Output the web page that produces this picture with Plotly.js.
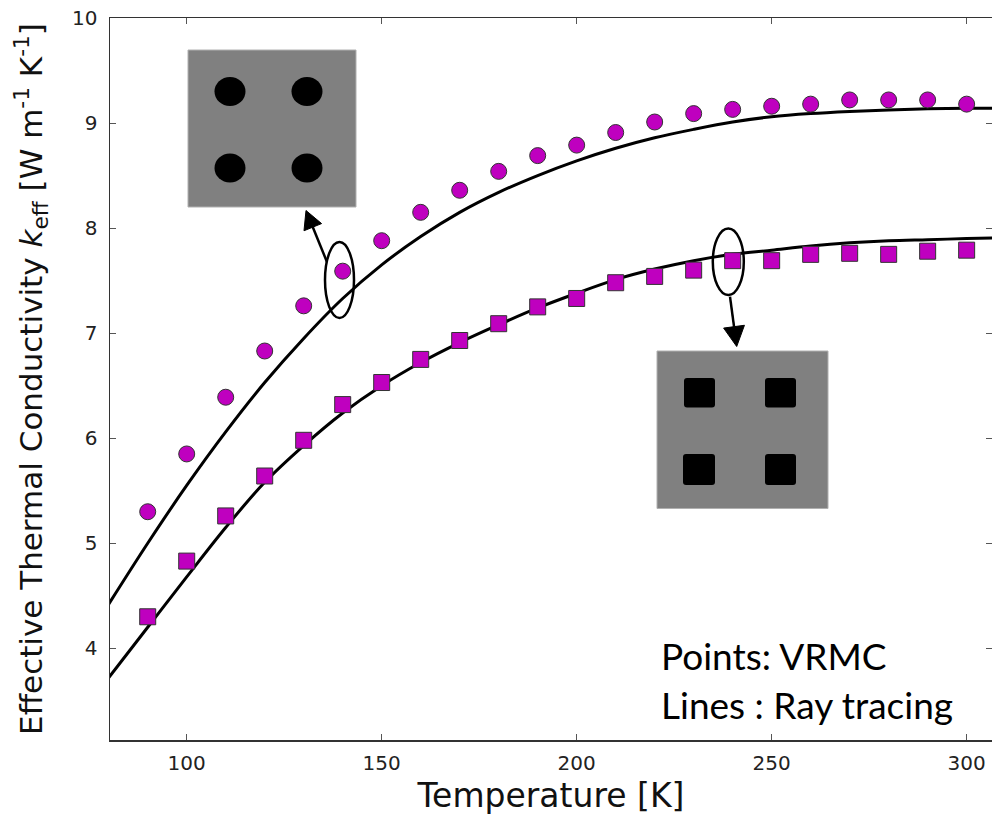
<!DOCTYPE html>
<html>
<head>
<meta charset="utf-8">
<script src="https://cdn.plot.ly/plotly-3.0.1.min.js"></script>
<style>html,body{margin:0;padding:0;background:#fff;} #chart{width:992px;height:815px;}</style>
</head>
<body>
<div id="chart"></div>
<script>
// ---- data ----
const temps = [90,100,110,120,130,140,150,160,170,180,190,200,210,220,230,240,250,260,270,280,290,300];
const vrmcCircles = [5.30,5.85,6.39,6.83,7.26,7.59,7.88,8.15,8.36,8.54,8.69,8.79,8.91,9.01,9.09,9.13,9.16,9.18,9.22,9.22,9.22,9.18];
const vrmcSquares = [4.30,4.83,5.26,5.64,5.98,6.32,6.53,6.75,6.93,7.09,7.25,7.33,7.48,7.54,7.60,7.69,7.69,7.75,7.76,7.75,7.78,7.79];
const rayT = [80,90,100,110,120,130,140,150,160,170,180,190,200,210,220,230,240,250,260,270,280,290,300,310];
const rayCircles = [4.42,5.00,5.55,6.06,6.53,6.95,7.33,7.65,7.92,8.15,8.34,8.50,8.64,8.76,8.86,8.94,9.01,9.06,9.09,9.11,9.125,9.135,9.14,9.14];
const raySquares = [3.72,4.20,4.68,5.15,5.58,5.93,6.24,6.50,6.72,6.91,7.08,7.24,7.38,7.51,7.61,7.69,7.75,7.79,7.83,7.86,7.88,7.89,7.90,7.91];
const xTicks = [100,150,200,250,300];
const yTicks = [4,5,6,7,8,9,10];
const noteLines = ["Points: VRMC", "Lines : Ray tracing"];

// ---- layout geometry ----
const W = 992, H = 815;
const M = {l:110, r:0, t:18, b:75};
const PW = W - M.l - M.r, PH = H - M.t - M.b;
const px = v => (v - M.l) / PW;          // pixel -> paper x
const py = v => (H - M.b - v) / PH;      // pixel -> paper y

const magenta = '#BF00BF';
const traces = [
  {x: rayT, y: rayCircles, mode:'lines', line:{color:'#000', width:3, shape:'spline', smoothing:1}, hoverinfo:'skip'},
  {x: rayT, y: raySquares, mode:'lines', line:{color:'#000', width:3, shape:'spline', smoothing:1}, hoverinfo:'skip'},
  {x: temps, y: vrmcCircles, mode:'markers', marker:{symbol:'circle', size:16, color:magenta, line:{color:'#333', width:1}}},
  {x: temps, y: vrmcSquares, mode:'markers', marker:{symbol:'square', size:16, color:magenta, line:{color:'#333', width:1}}}
];

function rrect(x0,y0,x1,y1,r){ // rounded rect path in pixel coords -> paper
  const X = v => px(v), Y = v => py(v);
  return `M${X(x0+r)},${Y(y0)} L${X(x1-r)},${Y(y0)} Q${X(x1)},${Y(y0)} ${X(x1)},${Y(y0+r)} L${X(x1)},${Y(y1-r)} Q${X(x1)},${Y(y1)} ${X(x1-r)},${Y(y1)} L${X(x0+r)},${Y(y1)} Q${X(x0)},${Y(y1)} ${X(x0)},${Y(y1-r)} L${X(x0)},${Y(y0+r)} Q${X(x0)},${Y(y0)} ${X(x0+r)},${Y(y0)} Z`;
}
function rectP(x0,y0,x1,y1,fill,line){
  return {type:'rect', xref:'paper', yref:'paper', x0:px(x0), x1:px(x1), y0:py(y1), y1:py(y0), fillcolor:fill, line:line};
}
function ell(cx,cy,rx,ry,opts){
  return Object.assign({type:'circle', xref:'paper', yref:'paper', x0:px(cx-rx), x1:px(cx+rx), y0:py(cy+ry), y1:py(cy-ry)}, opts);
}
function arrow(tx,ty,hx,hy,len,half){ // tail -> head (tip), pixel coords
  const dx = hx-tx, dy = hy-ty, L = Math.hypot(dx,dy);
  const ux = dx/L, uy = dy/L, nx = -uy, ny = ux;
  const bx = hx - len*ux, by = hy - len*uy;
  return [
    {type:'line', xref:'paper', yref:'paper', x0:px(tx), y0:py(ty), x1:px(bx+ux*2), y1:py(by+uy*2), line:{color:'#000', width:2.5}},
    {type:'path', xref:'paper', yref:'paper',
     path:`M${px(hx)},${py(hy)} L${px(bx+half*nx)},${py(by+half*ny)} L${px(bx-half*nx)},${py(by-half*ny)} Z`,
     fillcolor:'#000', line:{color:'#000', width:1}}
  ];
}

const shapes = [
  rectP(188,50,356,207,'#808080',{color:'#b0b0b0', width:1}),
  ell(230,91.5,15.5,14.5,{fillcolor:'#000', line:{width:0}}),
  ell(307,91.5,15.5,14.5,{fillcolor:'#000', line:{width:0}}),
  ell(230,168,15.5,14.5,{fillcolor:'#000', line:{width:0}}),
  ell(307,168,15.5,14.5,{fillcolor:'#000', line:{width:0}}),
  rectP(657,351,828,508.5,'#808080',{color:'#b0b0b0', width:1}),
  {type:'path', xref:'paper', yref:'paper', path:rrect(684,378,715,407.5,3), fillcolor:'#000', line:{width:0}},
  {type:'path', xref:'paper', yref:'paper', path:rrect(765,378,796,407.5,3), fillcolor:'#000', line:{width:0}},
  {type:'path', xref:'paper', yref:'paper', path:rrect(683,454,715,485,3), fillcolor:'#000', line:{width:0}},
  {type:'path', xref:'paper', yref:'paper', path:rrect(765,454,796,485,3), fillcolor:'#000', line:{width:0}},
  ell(339.5,280,14.5,38,{line:{color:'#000', width:2.5}}),
  ell(728.3,261.7,15.5,33.3,{line:{color:'#000', width:2.5}}),
  ...arrow(327,262,306,210.5,18,9.5),
  ...arrow(730,296.7,736.7,346.5,20,10.5)
];

const annotations = [
  {xref:'paper', yref:'paper', x:px(659), y:py(655), xanchor:'left', yanchor:'middle', showarrow:false,
   text:noteLines[0], font:{family:'Lato, Carlito, sans-serif', size:37, color:'#000'}},
  {xref:'paper', yref:'paper', x:px(659), y:py(704), xanchor:'left', yanchor:'middle', showarrow:false,
   text:noteLines[1], font:{family:'Lato, Carlito, sans-serif', size:37, color:'#000'}}
];

const axisCommon = {
  showgrid:false, zeroline:false, showline:true, linecolor:'#333', linewidth:1.5,
  mirror:'allticks', ticks:'inside', ticklen:6, tickwidth:1, tickcolor:'#555',
  tickfont:{family:'DejaVu Sans, sans-serif', size:20, color:'#222'}, fixedrange:true
};

const layout = {
  width:W, height:H, margin:M, paper_bgcolor:'#fff', plot_bgcolor:'#fff', showlegend:false,
  font:{family:'DejaVu Sans, sans-serif', color:'#111'},
  xaxis: Object.assign({}, axisCommon, {range:[80.33,306.5], tickvals:xTicks, ticktext:xTicks.map(String),
    ticklabelstandoff:4,
    title:{text:'Temperature [K]', font:{family:'DejaVu Sans, sans-serif', size:33, color:'#111'}, standoff:10}}),
  yaxis: Object.assign({}, axisCommon, {range:[3.127,10], tickvals:yTicks, ticktext:yTicks.map(String),
    ticklabelstandoff:7,
    title:{text:'Effective Thermal Conductivity <i>k</i><sub>eff</sub> [W m<sup>-1</sup> K<sup>-1</sup>]',
      font:{family:'DejaVu Sans, sans-serif', size:31, color:'#111'}, standoff:20}}),
  shapes: shapes, annotations: annotations
};

Plotly.newPlot('chart', traces, layout, {displayModeBar:false, staticPlot:true});
</script>
</body>
</html>
